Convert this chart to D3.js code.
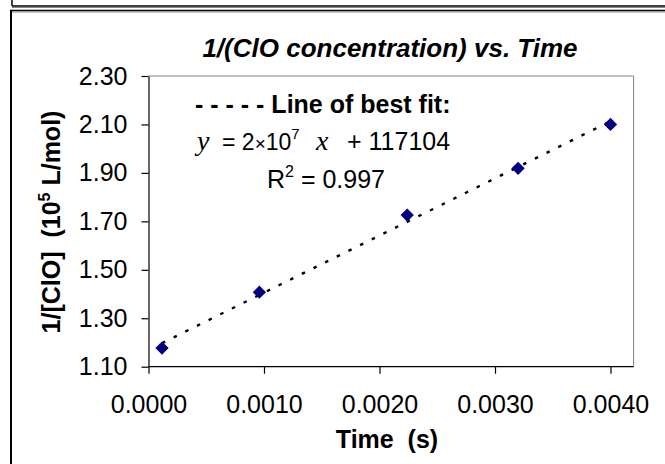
<!DOCTYPE html>
<html>
<head>
<meta charset="utf-8">
<script src="https://cdn.jsdelivr.net/npm/d3@7"></script>
<style>
  html, body { margin: 0; padding: 0; background: #fff; }
  svg { display: block; }
  text { font-family: "Liberation Sans", Arial, sans-serif; }
</style>
</head>
<body>
<svg id="chart" width="665" height="464"></svg>
<script>
// ---- data ----
const timeValues = [0.000117, 0.00096, 0.00224, 0.0032, 0.0040];        // s
const invConcValues = [1.177, 1.4075, 1.726, 1.919, 2.10];               // 10^5 L/mol
const xTickValues = [0, 0.001, 0.002, 0.003, 0.004];
const yTickValues = [1.10, 1.30, 1.50, 1.70, 1.90, 2.10, 2.30];
const titleText = "1/(ClO concentration) vs. Time";
const xLabel = "Time  (s)";
const legendTitle = "- - - - - Line of best fit:";
const eqIntercept = "117104";
const r2Text = "0.997";

const svg = d3.select("#chart");
const FONT = "Liberation Sans, Arial, sans-serif";
const SERIF = "Liberation Serif, Times New Roman, serif";

// outer frames
svg.append("line").attr("x1", 12).attr("x2", 665).attr("y1", 6).attr("y2", 6).attr("stroke", "#000").attr("stroke-width", 1.5);
svg.append("line").attr("x1", 12).attr("x2", 665).attr("y1", 7.5).attr("y2", 7.5).attr("stroke", "#888").attr("stroke-width", 1);
svg.append("line").attr("x1", 12).attr("x2", 12).attr("y1", 0).attr("y2", 6).attr("stroke", "#000").attr("stroke-width", 1.5);
svg.append("line").attr("x1", 10).attr("x2", 665).attr("y1", 10.5).attr("y2", 10.5).attr("stroke", "#000").attr("stroke-width", 1.5);
svg.append("line").attr("x1", 11).attr("x2", 665).attr("y1", 12).attr("y2", 12).attr("stroke", "#888").attr("stroke-width", 1);
svg.append("line").attr("x1", 11).attr("x2", 11).attr("y1", 10).attr("y2", 464).attr("stroke", "#000").attr("stroke-width", 2);

// scales
const x = d3.scaleLinear().domain([0, 0.0042]).range([148.5, 633.6]);
const y = d3.scaleLinear().domain([1.10, 2.30]).range([366.7, 76]);

// plot area border (top/right gray)
svg.append("line").attr("x1", x(0)).attr("x2", x(0.0042)).attr("y1", y(2.30)).attr("y2", y(2.30)).attr("stroke", "#808080");
svg.append("line").attr("x1", x(0.0042)).attr("x2", x(0.0042)).attr("y1", y(2.30)).attr("y2", y(1.10)).attr("stroke", "#808080");

// axes
const yAxis = svg.append("g").attr("transform", `translate(${x(0)},0)`)
  .call(d3.axisLeft(y).tickValues(yTickValues).tickFormat(d3.format(".2f")).tickSizeInner(7).tickSizeOuter(0).tickPadding(14));
const xAxis = svg.append("g").attr("transform", `translate(0,${y(1.10)})`)
  .call(d3.axisBottom(x).tickValues(xTickValues).tickFormat(d3.format(".4f")).tickSizeInner(7).tickSizeOuter(0).tickPadding(22));
[xAxis, yAxis].forEach(g => {
  g.select(".domain").attr("stroke", "#000").attr("stroke-width", 1.2);
  g.selectAll(".tick line").attr("stroke", "#000").attr("stroke-width", 1.2);
  g.selectAll(".tick text").attr("font-family", FONT).attr("font-size", 25).attr("fill", "#000");
});
xAxis.select(".domain").attr("d", `M${x(0)},0H${x(0.0042)}`);

// trendline (least squares from data)
const mx = d3.mean(timeValues), my = d3.mean(invConcValues);
const sxy = d3.sum(timeValues.map((t, i) => (t - mx) * (invConcValues[i] - my)));
const sxx = d3.sum(timeValues.map(t => (t - mx) ** 2));
const slope = sxy / sxx, intercept = my - slope * mx;
const tMin = d3.min(timeValues), tMax = d3.max(timeValues);
svg.append("path")
  .datum([tMin, tMax])
  .attr("d", d3.line().x(t => x(t)).y(t => y(intercept + slope * t)))
  .attr("stroke", "#000").attr("stroke-width", 2.4).attr("fill", "none")
  .attr("stroke-dasharray", "3.5,9.5");

// markers
const diamond = d3.symbol().type(d3.symbolDiamond2).size(112);
svg.selectAll(".pt").data(timeValues).enter().append("path")
  .attr("class", "pt")
  .attr("transform", (t, i) => `translate(${x(t)},${y(invConcValues[i])})`)
  .attr("d", diamond)
  .attr("fill", "#000080");

// title
svg.append("text").attr("x", 390).attr("y", 57).attr("text-anchor", "middle")
  .attr("font-family", FONT).attr("font-size", 26).attr("font-weight", "bold").attr("font-style", "italic")
  .text(titleText);

// x label
svg.append("text").attr("x", 387).attr("y", 448).attr("text-anchor", "middle")
  .attr("font-family", FONT).attr("font-size", 25).attr("font-weight", "bold")
  .style("white-space", "pre").text(xLabel);

// y label
const yl = svg.append("text").attr("transform", "translate(60,222) rotate(-90)").attr("text-anchor", "middle")
  .attr("font-family", FONT).attr("font-size", 25).attr("font-weight", "bold").style("white-space", "pre");
yl.append("tspan").text("1/[ClO]  (10");
yl.append("tspan").attr("dy", -10).attr("font-size", 16).text("5");
yl.append("tspan").attr("dy", 10).text(" L/mol)");

// legend
svg.append("text").attr("x", 195).attr("y", 113)
  .attr("font-family", FONT).attr("font-size", 25).attr("font-weight", "bold")
  .style("white-space", "pre").text(legendTitle);

const eq = svg.append("text").attr("x", 197).attr("y", 150)
  .attr("font-family", FONT).attr("font-size", 23).style("white-space", "pre");
eq.append("tspan").attr("font-family", SERIF).attr("font-style", "italic").attr("font-size", 28).text("y");
eq.append("tspan").attr("x", 222).text("= 2");
eq.append("tspan").attr("font-size", 19).text("\u00d7");
eq.append("tspan").text("10");
eq.append("tspan").attr("dy", -11).attr("font-size", 15).text("7");
eq.append("tspan").attr("x", 316).attr("dy", 11).attr("font-family", SERIF).attr("font-style", "italic").attr("font-size", 28).text("x");
eq.append("tspan").attr("x", 347).attr("font-size", 25).text("+ " + eqIntercept);

const r2 = svg.append("text").attr("x", 267).attr("y", 188)
  .attr("font-family", FONT).attr("font-size", 25).style("white-space", "pre");
r2.append("tspan").text("R");
r2.append("tspan").attr("dy", -11).attr("font-size", 16).text("2");
r2.append("tspan").attr("dy", 11).text(" = " + r2Text);
</script>
</body>
</html>
